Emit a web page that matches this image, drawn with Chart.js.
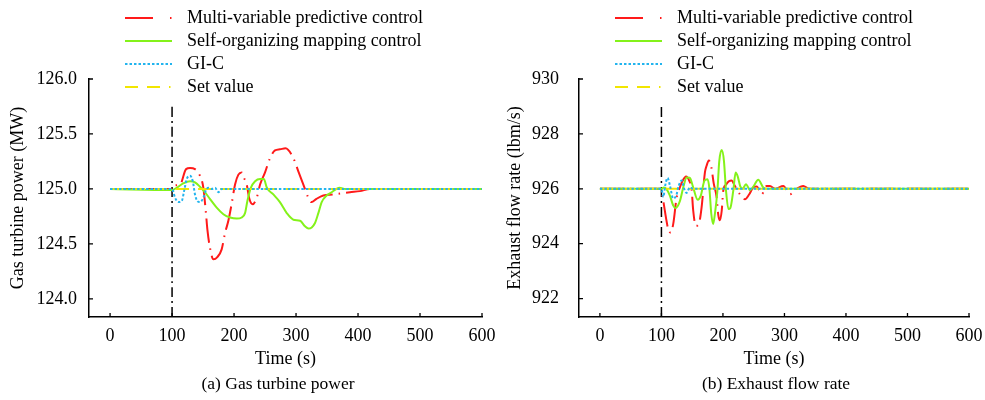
<!DOCTYPE html>
<html>
<head>
<meta charset="utf-8">
<script src="https://cdn.jsdelivr.net/npm/chart.js@4.4.1/dist/chart.umd.min.js"></script>
<style>
  body { margin: 0; background: #fff; font-family: "Liberation Serif", "Times New Roman", serif; }
  #wrap { position: relative; width: 985px; height: 400px; overflow: hidden; }
  canvas { position: absolute; top: 0; }
  .legend { position: absolute; top: 6px; font-size: 18px; color: #000; }
  .legend div { height: 23px; display: flex; align-items: center; white-space: nowrap; }
  .legend svg { width: 47px; height: 6px; margin-right: 15px; }
  .caption { position: absolute; top: 373px; font-size: 17.5px; line-height: 20px; text-align: center; color: #000; }
</style>
</head>
<body>
<div id="wrap">
  <canvas id="powerChart" width="510" height="400" style="left:0"></canvas>
  <canvas id="flowChart" width="493" height="400" style="left:492px"></canvas>

  <div class="legend" style="left:125px">
    <div><svg><line x1="0" y1="3" x2="47" y2="3" stroke="#ff1a1a" stroke-width="2" stroke-dasharray="28,17,1.5,10"/></svg>Multi-variable predictive control</div>
    <div><svg><line x1="0" y1="3" x2="47" y2="3" stroke="#84f21a" stroke-width="2"/></svg>Self-organizing mapping control</div>
    <div><svg><line x1="0" y1="3" x2="47" y2="3" stroke="#22b4ee" stroke-width="2" stroke-dasharray="2.5,2"/></svg>GI-C</div>
    <div><svg><line x1="0" y1="3" x2="47" y2="3" stroke="#f2e600" stroke-width="2" stroke-dasharray="13,9,13,9,1.5,10"/></svg>Set value</div>
  </div>
  <div class="legend" style="left:615px">
    <div><svg><line x1="0" y1="3" x2="47" y2="3" stroke="#ff1a1a" stroke-width="2" stroke-dasharray="28,17,1.5,10"/></svg>Multi-variable predictive control</div>
    <div><svg><line x1="0" y1="3" x2="47" y2="3" stroke="#84f21a" stroke-width="2"/></svg>Self-organizing mapping control</div>
    <div><svg><line x1="0" y1="3" x2="47" y2="3" stroke="#22b4ee" stroke-width="2" stroke-dasharray="2.5,2"/></svg>GI-C</div>
    <div><svg><line x1="0" y1="3" x2="47" y2="3" stroke="#f2e600" stroke-width="2" stroke-dasharray="13,9,13,9,1.5,10"/></svg>Set value</div>
  </div>

  <div class="caption" style="left:178px; width:200px">(a) Gas turbine power</div>
  <div class="caption" style="left:676px; width:200px">(b) Exhaust flow rate</div>
</div>

<script>
// ---- data ----
const xTicks = [0, 100, 200, 300, 400, 500, 600];
const powerTicks = [124.0, 124.5, 125.0, 125.5, 126.0];
const flowTicks = [922, 924, 926, 928, 930];

// (a) gas turbine power, MW
const powerSetT = [0, 600];
const powerSetV = [125, 125];
const powerMpcT = [0, 100, 103, 113, 122.6, 129, 137, 145, 150.5, 154.8, 157, 161, 166.7, 173, 180, 185.5, 190.8, 196, 201.6, 207, 212.4, 216, 220.4, 224.7, 230, 236.6, 242, 250, 258, 266, 274, 283, 295.7, 303.7, 311.8, 321.5, 325, 333, 344, 360, 387, 403, 420, 600];
const powerMpcV = [125, 125, 125.03, 125.04, 125.18, 125.19, 125.18, 125.12, 125.01, 124.77, 124.63, 124.47, 124.36, 124.38, 124.45, 124.60, 124.71, 124.86, 125.04, 125.13, 125.15, 125.10, 125.04, 124.91, 124.86, 124.92, 125.04, 125.15, 125.28, 125.35, 125.36, 125.37, 125.28, 125.16, 125.04, 124.90, 124.88, 124.91, 124.94, 124.95, 124.97, 124.98, 125.0, 125.0];
const powerSomT = [0, 100, 107.5, 118, 129, 137, 145, 153, 161, 172, 182.8, 193.5, 204.3, 212.4, 217.7, 221.5, 227, 234, 242, 248, 253, 263.4, 274, 285, 295.7, 306.5, 314.5, 320, 325.3, 330.6, 336, 341.4, 349.5, 357.5, 370, 380, 600];
const powerSomV = [125, 124.99, 125.01, 125.05, 125.07, 125.06, 125.02, 124.97, 124.91, 124.83, 124.77, 124.74, 124.73, 124.74, 124.78, 124.89, 125.01, 125.07, 125.09, 125.09, 125.01, 124.95, 124.88, 124.78, 124.72, 124.71, 124.66, 124.64, 124.65, 124.69, 124.78, 124.88, 124.94, 124.97, 125.01, 125.0, 125.0];
const powerGicT = [0, 100, 104.8, 110, 115.6, 119.4, 123.7, 129, 133.4, 137, 140.8, 145, 150.5, 154.8, 158.6, 164, 169.4, 174.7, 180, 600];
const powerGicV = [125, 125, 124.92, 124.88, 124.89, 124.98, 125.09, 125.12, 125.07, 124.95, 124.89, 124.88, 124.92, 124.99, 125.01, 125.0, 125.01, 124.97, 125.0, 125];

// (b) exhaust flow rate, lbm/s
const flowSetT = [0, 600];
const flowSetV = [926, 926];
const flowMpcT = [0, 99.2, 103, 107.3, 111, 115, 119.2, 124.7, 130, 134.4, 140, 145.3, 149, 151.7, 156, 161.5, 165.3, 170.7, 173.4, 177, 181, 185, 189.7, 192.4, 195, 198, 200.5, 205, 210, 214, 219.5, 227.6, 235.8, 242.8, 249.3, 254.8, 262.9, 271, 276.4, 285, 298, 309, 319.8, 330.6, 340, 600];
const flowMpcV = [926, 926, 925.56, 924.96, 924.53, 924.41, 924.72, 925.68, 926.05, 926.29, 926.45, 926.29, 926.0, 925.2, 924.65, 924.78, 925.32, 926.6, 926.84, 927.03, 926.8, 926.2, 925.7, 925.05, 924.85, 925.2, 925.93, 926.15, 926.28, 926.3, 926.1, 925.8, 925.62, 925.8, 926.05, 926.08, 925.8, 926.1, 926.1, 926.0, 926.1, 925.8, 926.0, 926.1, 926.0, 926];
const flowSomT = [0, 100, 104, 108, 113.8, 119, 123, 130, 136, 141, 146, 151, 159, 164, 170, 175, 178, 181, 184, 187, 191, 194, 198, 201.6, 205, 209, 212, 216.8, 220.6, 224, 228, 232, 237.4, 244, 250, 257.4, 265.5, 272, 600];
const flowSomV = [926, 926, 926.05, 926.0, 925.75, 925.4, 925.3, 925.55, 926.1, 926.41, 926.4, 926.1, 925.6, 925.75, 926.3, 926.35, 926.0, 925.1, 924.72, 925.1, 925.93, 927.0, 927.41, 927.02, 925.93, 925.26, 925.3, 925.93, 926.59, 926.45, 926.1, 926.0, 926.17, 925.95, 926.1, 926.33, 926.05, 926.0, 926.0];
const flowGicT = [0, 100, 103, 106, 110, 114, 119, 124, 128, 133, 137, 141, 146, 152, 600];
const flowGicV = [926, 926, 925.7, 926.1, 926.4, 926.1, 925.65, 925.75, 926.1, 926.3, 926.0, 925.85, 926.05, 926.0, 926];

// disturbance instant (vertical dash-dot marker)
const stepT = [100, 100];
const powerStepV = [123.835, 125.76];
const flowStepV = [921.33, 929.05];

// ---- helpers ----
const pts = (ts, vs) => ts.map((t, i) => ({ x: t, y: vs[i] }));
const font = { family: '"Liberation Serif", "Times New Roman", serif', size: 18 };

// tick marks pointing into the plot
const innerTicks = {
  id: 'innerTicks',
  afterDraw(chart) {
    const { ctx, chartArea: a, scales: { x, y } } = chart;
    ctx.save();
    ctx.strokeStyle = '#000';
    ctx.lineWidth = 1.3;
    ctx.beginPath();
    x.ticks.forEach(t => {
      const px = x.getPixelForValue(t.value);
      ctx.moveTo(px, a.bottom);
      ctx.lineTo(px, a.bottom - 4);
    });
    y.ticks.forEach(t => {
      const py = y.getPixelForValue(t.value);
      ctx.moveTo(a.left, py);
      ctx.lineTo(a.left + 4, py);
    });
    ctx.stroke();
    ctx.restore();
  }
};

function makeChart(id, s) {
  const datasets = [
    { data: pts(s.gicT, s.gicV), borderColor: '#22b4ee', borderWidth: 2, borderDash: [2.5, 2], order: 0 },
    { data: pts(s.setT, s.setV), borderColor: '#f2e600', borderWidth: 2, borderDash: [13, 9], order: 1 },
    { data: pts(s.somT, s.somV), borderColor: '#84f21a', borderWidth: 2, order: 2 },
    { data: pts(s.mpcT, s.mpcV), borderColor: '#ff1a1a', borderWidth: 2, borderDash: [24, 6, 1.5, 6], order: 3 },
    { data: pts(stepT, s.stepV), borderColor: '#000', borderWidth: 1.5, borderDash: [10, 4, 2, 4], order: 4 }
  ];
  return new Chart(document.getElementById(id), {
    type: 'line',
    data: { datasets },
    options: {
      responsive: false,
      animation: false,
      layout: { padding: { top: 79, right: s.padRight, bottom: 0, left: 0 } },
      plugins: { legend: { display: false }, tooltip: { enabled: false } },
      elements: { point: { radius: 0 }, line: { cubicInterpolationMode: 'monotone', fill: false } },
      scales: {
        x: {
          type: 'linear', min: -34, max: 600,
          afterBuildTicks: sc => { sc.ticks = xTicks.map(v => ({ value: v })); },
          afterFit: sc => { sc.height = 83; sc.paddingLeft = 0; sc.paddingRight = 0; },
          grid: { display: false, drawTicks: false },
          border: { display: true, color: '#000', width: 1.5 },
          ticks: { color: '#000', font, padding: 8, maxRotation: 0 },
          title: { display: true, text: 'Time (s)', color: '#000', font, padding: { top: 0, bottom: 30 } }
        },
        y: {
          type: 'linear', min: s.yMin, max: s.yMax,
          afterBuildTicks: sc => { sc.ticks = s.yTicks.map(v => ({ value: v })); },
          afterFit: sc => { sc.width = s.yWidth; },
          grid: { display: false, drawTicks: false },
          border: { display: true, color: '#000', width: 1.5 },
          ticks: { color: '#000', font, padding: s.tickPad, callback: s.fmt },
          title: { display: true, text: s.yTitle, color: '#000', font, padding: { top: s.titlePad, bottom: 0 } }
        }
      }
    },
    plugins: [innerTicks]
  });
}

makeChart('powerChart', {
  setT: powerSetT, setV: powerSetV, mpcT: powerMpcT, mpcV: powerMpcV,
  somT: powerSomT, somV: powerSomV, gicT: powerGicT, gicV: powerGicV,
  stepV: powerStepV, yTicks: powerTicks, yMin: 123.835, yMax: 126,
  yTitle: 'Gas turbine power (MW)', fmt: v => v.toFixed(1),
  yWidth: 89, padRight: 28, tickPad: 12, titlePad: 7
});

makeChart('flowChart', {
  setT: flowSetT, setV: flowSetV, mpcT: flowMpcT, mpcV: flowMpcV,
  somT: flowSomT, somV: flowSomV, gicT: flowGicT, gicV: flowGicV,
  stepV: flowStepV, yTicks: flowTicks, yMin: 921.33, yMax: 930,
  yTitle: 'Exhaust flow rate (lbm/s)', fmt: v => String(v),
  yWidth: 87, padRight: 16, tickPad: 20, titlePad: 12
});
</script>
</body>
</html>
